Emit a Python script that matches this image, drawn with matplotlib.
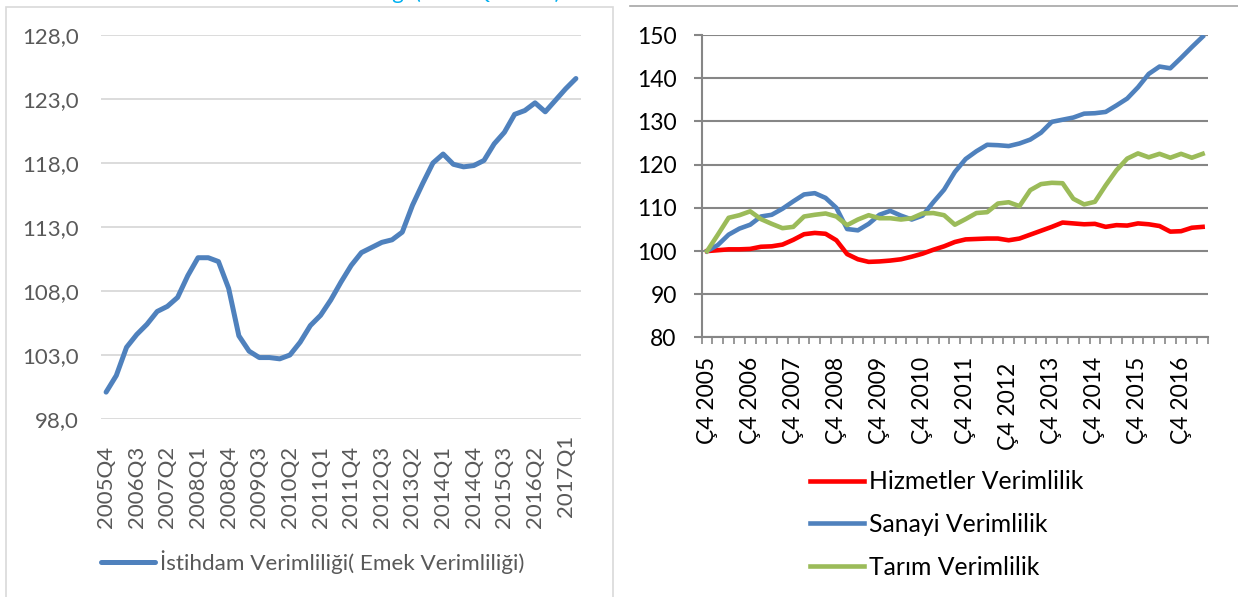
import matplotlib.pyplot as plt
import matplotlib.transforms as mtransforms
from matplotlib.lines import Line2D
from matplotlib.patches import Rectangle
from matplotlib.ticker import FuncFormatter, FixedLocator

plt.rcParams['font.family'] = ['Lato', 'DejaVu Sans']

W, H = 1238, 597

# quarters 2005Q4 .. 2017Q2
quarters = ['2005Q4'] + [f'{y}Q{q}' for y in range(2006, 2017) for q in (1, 2, 3, 4)] + ['2017Q1', '2017Q2']

istihdam = [100.1, 101.4, 103.6, 104.6, 105.4, 106.4, 106.8, 107.5, 109.2, 110.6,
            110.6, 110.3, 108.2, 104.5, 103.3, 102.8, 102.8, 102.7, 103.0, 104.0,
            105.3, 106.1, 107.3, 108.7, 110.0, 111.0, 111.4, 111.8, 112.0, 112.6,
            114.7, 116.4, 118.0, 118.7, 117.9, 117.7, 117.8, 118.2, 119.5, 120.4,
            121.8, 122.1, 122.7, 122.0, 122.9, 123.8, 124.6]

hizmetler = [100.0, 100.2, 100.4, 100.4, 100.5, 101.0, 101.1, 101.5, 102.6, 103.9,
             104.2, 104.0, 102.5, 99.3, 98.1, 97.5, 97.6, 97.8, 98.1, 98.7,
             99.4, 100.3, 101.1, 102.1, 102.7, 102.8, 102.9, 102.9, 102.5, 102.9,
             103.8, 104.7, 105.6, 106.6, 106.4, 106.2, 106.3, 105.6, 106.0, 105.9,
             106.4, 106.2, 105.8, 104.5, 104.6, 105.4, 105.6]

sanayi = [100.0, 101.4, 103.8, 105.2, 106.1, 108.0, 108.4, 109.8, 111.5, 113.1,
          113.4, 112.3, 110.0, 105.1, 104.8, 106.3, 108.4, 109.3, 108.2, 107.3,
          108.2, 111.3, 114.2, 118.3, 121.3, 123.1, 124.6, 124.5, 124.3, 124.9,
          125.8, 127.4, 129.9, 130.4, 130.9, 131.8, 131.9, 132.2, 133.7, 135.3,
          137.9, 141.0, 142.7, 142.3, 144.7, 147.2, 149.6]

tarim = [100.0, 103.8, 107.7, 108.3, 109.2, 107.4, 106.3, 105.3, 105.6, 108.0,
         108.4, 108.7, 108.0, 106.0, 107.3, 108.3, 107.6, 107.6, 107.3, 107.6,
         108.7, 108.8, 108.3, 106.1, 107.4, 108.8, 109.0, 111.0, 111.3, 110.4,
         114.1, 115.5, 115.8, 115.7, 112.1, 110.8, 111.4, 115.2, 118.7, 121.4,
         122.6, 121.7, 122.5, 121.6, 122.5, 121.6, 122.5]

left_labels = ['2005Q4', '2006Q3', '2007Q2', '2008Q1', '2008Q4', '2009Q3', '2010Q2', '2011Q1',
               '2011Q4', '2012Q3', '2013Q2', '2014Q1', '2014Q4', '2015Q3', '2016Q2', '2017Q1']
right_labels = ['Ç4 2005', 'Ç4 2006', 'Ç4 2007', 'Ç4 2008', 'Ç4 2009', 'Ç4 2010',
                'Ç4 2011', 'Ç4 2012', 'Ç4 2013', 'Ç4 2014', 'Ç4 2015', 'Ç4 2016']

x = list(range(len(quarters)))


def box(l, t, r, b):
    return [l / W, 1 - b / H, (r - l) / W, (b - t) / H]


def nudge(label, dy_px):
    label.set_transform(label.get_transform() +
                        mtransforms.ScaledTranslation(0, dy_px / 100, fig.dpi_scale_trans))


fig = plt.figure(figsize=(W / 100, H / 100), dpi=100)

# chart borders and the title, cut off at the top as in the screenshot
fig.add_artist(Rectangle((6 / W, -0.05), 607 / W, 1.05 - 7 / H, transform=fig.transFigure,
                         fill=False, edgecolor='#D9D9D9', linewidth=1.2))
fig.add_artist(Line2D([630 / W, 1], [1 - 6 / H, 1 - 6 / H], transform=fig.transFigure,
                      color='#A6A6A6', linewidth=1.2))
fig.text(560 / W, 1 + 1 / H, 'Emek Verimliliği (2005Q4=100)', color='#00B0F0',
         fontsize=16, ha='right', va='baseline')

# ---- left chart
ax1 = fig.add_axes(box(101, 35, 581, 419))
ax1.plot(x, istihdam, color='#4F81BD', linewidth=3.6, solid_capstyle='round',
         solid_joinstyle='round', label='İstihdam Verimliliği( Emek Verimliliği)')
ax1.set_xlim(-0.5, len(x) - 0.5)
ax1.set_ylim(98, 128)
ax1.set_yticks([98, 103, 108, 113, 118, 123, 128])
ax1.yaxis.set_major_formatter(FuncFormatter(lambda v, p: f'{v:.1f}'.replace('.', ',')))
ax1.set_xticks(x[::3])
ax1.set_xticklabels(left_labels, rotation=90, va='top', ha='center')
ax1.grid(axis='y', color='#D9D9D9', linewidth=1.3)
ax1.set_axisbelow(True)
for s in ax1.spines.values():
    s.set_visible(False)
ax1.tick_params(axis='both', length=0, labelsize=16, labelcolor='#595959')
ax1.tick_params(axis='y', pad=16)
ax1.tick_params(axis='x', pad=19)
nudge(ax1.get_xticklabels()[-1], 11)
ax1.legend(loc='center left', bbox_to_anchor=(101 / W, 1 - 562 / H),
           bbox_transform=fig.transFigure, frameon=False, fontsize=16.2,
           handlelength=2.4, handletextpad=0.22, borderpad=0, borderaxespad=0,
           labelcolor='#595959')

# ---- right chart
ax2 = fig.add_axes(box(701.7, 35, 1208, 337.5))
ax2.plot(x, hizmetler, color='#FF0000', linewidth=3.3, label='Hizmetler Verimlilik')
ax2.plot(x, sanayi, color='#4F81BD', linewidth=3.3, label='Sanayi Verimlilik')
ax2.plot(x, tarim, color='#9BBB59', linewidth=3.3, label='Tarım Verimlilik')
ax2.set_xlim(-0.5, len(x) - 0.5)
ax2.set_ylim(80, 150)
ax2.set_yticks(range(80, 151, 10))
ax2.grid(axis='y', color='#868686', linewidth=1.5)
ax2.set_axisbelow(True)
ax2.spines['top'].set_visible(False)
ax2.spines['right'].set_visible(False)
ax2.spines['left'].set_color('#868686')
ax2.spines['bottom'].set_color('#868686')
ax2.spines['left'].set_linewidth(1.5)
ax2.spines['bottom'].set_linewidth(1.5)
ax2.set_xticks(x[::4])
ax2.set_xticklabels(right_labels, rotation=90, va='top', ha='center')
ax2.xaxis.set_minor_locator(FixedLocator([i - 0.5 for i in range(len(x) + 1)]))
ax2.tick_params(axis='x', which='major', length=0, pad=14)
ax2.tick_params(axis='x', which='minor', length=5, width=1.2, color='#868686', direction='out')
ax2.tick_params(axis='y', length=6, width=1.5, color='#868686', pad=12)
ax2.tick_params(axis='both', labelsize=16.5, labelcolor='black')
nudge(ax2.get_xticklabels()[7], -6)
ax2.legend(loc='center left', bbox_to_anchor=(809.7 / W, 1 - 524.5 / H),
           bbox_transform=fig.transFigure, frameon=False, fontsize=17.8,
           handlelength=2.2, handletextpad=0.2, borderpad=0, borderaxespad=0,
           labelspacing=0.79)

fig.savefig('out.png', dpi=100)
